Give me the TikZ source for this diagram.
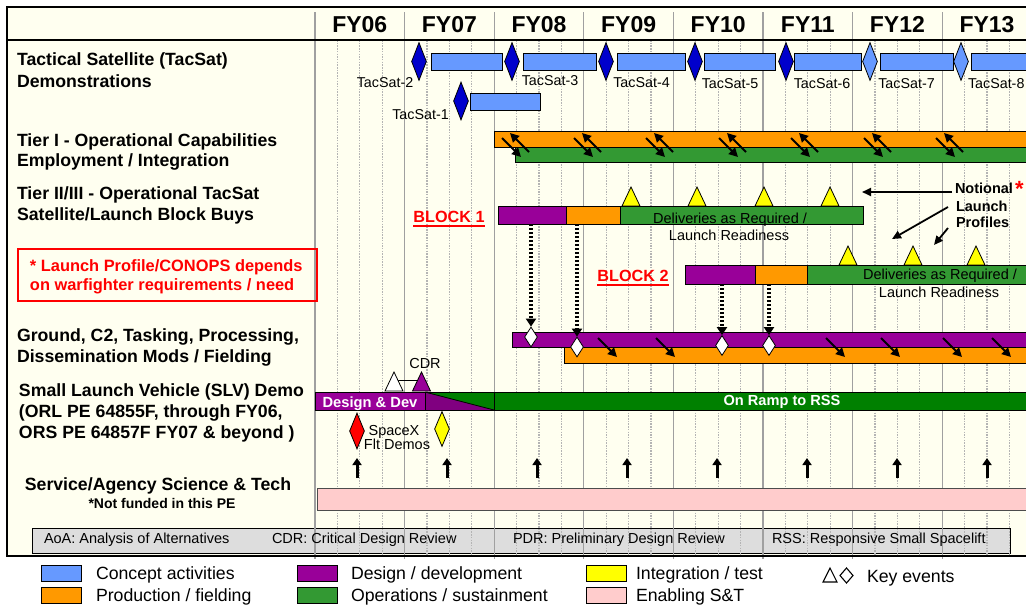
\documentclass[tikz,border=0pt]{standalone}
\usepackage{fontspec}
\setmainfont{Liberation Sans}
\usetikzlibrary{arrows.meta,shapes.geometric}
\definecolor{cream}{HTML}{FFFFF0}
\definecolor{cblue}{HTML}{6699FF}
\definecolor{dblue}{HTML}{0000CC}
\definecolor{corange}{HTML}{FF9900}
\definecolor{cgreen}{HTML}{339933}
\definecolor{dgreen}{HTML}{008000}
\definecolor{cpurple}{HTML}{990099}
\definecolor{dpurple}{HTML}{800080}
\definecolor{cyellow}{HTML}{FFFF00}
\definecolor{cpink}{HTML}{FFCCCC}
\definecolor{cgray}{HTML}{DDDDDD}
\definecolor{gmajor}{HTML}{A0A0A0}
\definecolor{gminor}{HTML}{B4B4B4}
\definecolor{cred}{HTML}{FF0000}
\newcommand\gbar[6]{\node[bar, fill=#2, minimum width={#5-#3}, minimum height={#6-#4}] (#1) at (#3,#4) {};}
\newcommand\ytri[3]{\draw[fill=#3, line width=0.8pt, line join=miter] ({#1-9},#2) -- (#1,{#2-19}) -- ({#1+9},#2) -- cycle;}
\tikzset{
  txt/.style={inner sep=0pt, outer sep=0pt, anchor=base west},
  ctxt/.style={inner sep=0pt, outer sep=0pt, anchor=base},
  lab/.style={txt, font=\fontsize{17.7pt}{21pt}\selectfont\bfseries},
  fy/.style={ctxt, font=\fontsize{23pt}{27pt}\selectfont\bfseries},
  reg/.style={font=\fontsize{14.5pt}{17pt}\selectfont},
  tsl/.style={ctxt, font=\fontsize{14.3pt}{17pt}\selectfont},
  leg/.style={txt, font=\fontsize{17.7pt}{21pt}\selectfont},
  bar/.style={draw=black, line width=0.8pt, inner sep=0pt, outer sep=0pt, anchor=north west},
  swatch/.style={draw=black, line width=0.8pt, inner sep=0pt, anchor=north west, minimum width=40, minimum height=16},
  tsd/.style={diamond, draw=black, line width=0.8pt, inner sep=0pt, minimum width=15, minimum height=38},
  wd/.style={diamond, draw=black, fill=white, line width=0.8pt, inner sep=0pt, minimum width=13, minimum height=20},
  darr/.style={line width=2pt, -{Triangle[length=9pt,width=9pt]}},
  uarr/.style={line width=3pt, -{Triangle[length=7pt,width=9pt]}},
  narr/.style={line width=1.8pt, -{Triangle[length=9pt,width=8pt]}},
  dotarr/.style={line width=3.2pt, dash pattern=on 2.4pt off 1.6pt, -{Triangle[length=8pt,width=10pt]}},
  majorgrid/.style={gmajor, line width=1.2pt},
  minorgrid/.style={gminor, line width=1.3pt, dash pattern=on 1.5pt off 1.2pt},
}
\begin{document}
\begin{tikzpicture}[x=1pt,y=-1pt]
\useasboundingbox (0,0) rectangle (1026,606);
\clip (0,0) rectangle (1026,606);
\fill[white] (0,0) rectangle (1026,606);
\fill[cream] (7,7) rectangle (1030,556);

% abbreviation box
\gbar{abbr}{cgray}{32}{528}{1010}{553}

% grid
\foreach \q in {1,...,32}{
  \pgfmathtruncatemacro\m{mod(\q,4)}
  \ifnum\m=0\relax\else
    \draw[minorgrid] ({315+22.4*\q},40) -- ({315+22.4*\q},556);
  \fi
}
\foreach \k in {0,...,8}{
  \draw[majorgrid] ({315+89.6*\k},12) -- ({315+89.6*\k},559);
}

% frame
\draw[line width=1.3pt] (7,40) -- (1030,40);
\draw[line width=2pt] (1030,7) -- (7,7) -- (7,556) -- (1030,556);

% year labels
\foreach \k/\yr in {0/FY06,1/FY07,2/FY08,3/FY09,4/FY10,5/FY11,6/FY12,7/FY13}{
  \node[fy] (fy\k) at ({315+89.6*(\k+0.5)},32.2) {\yr};
}

% row labels
\node[lab] (l1a) at (17,65.3) {Tactical Satellite (TacSat)};
\node[lab] (l1b) at (17,87.3) {Demonstrations};
\node[lab] (l2a) at (17,146.3) {Tier I - Operational Capabilities};
\node[lab] (l2b) at (17,166.3) {Employment / Integration};
\node[lab] (l3a) at (17,199.3) {Tier II/III - Operational TacSat};
\node[lab] (l3b) at (17,220.3) {Satellite/Launch Block Buys};
\node[lab] (l4a) at (17,341.3) {Ground, C2, Tasking, Processing,};
\node[lab] (l4b) at (17,362.3) {Dissemination Mods / Fielding};
\node[lab] (l5a) at (19,396.3) {Small Launch Vehicle (SLV) Demo};
\node[lab] (l5b) at (19,417.3) {(ORL PE 64855F, through FY06,};
\node[lab] (l5c) at (19,438.3) {ORS PE 64857F FY07 \& beyond )};
\node[lab, anchor=base] (l6a) at (158,490.3) {Service/Agency Science \& Tech};
\node[ctxt, font=\fontsize{14pt}{17pt}\selectfont\bfseries] (l6b) at (162,508.5) {*Not funded in this PE};

% red note box
\node[draw=cred, line width=2pt, inner sep=0pt, anchor=north west, minimum width=299, minimum height=52] (rbox) at (17,248) {};
\node[txt, text=cred, font=\fontsize{16.4pt}{20pt}\selectfont\bfseries] (rb1) at (30,271.9) {* Launch Profile/CONOPS depends};
\node[txt, text=cred, font=\fontsize{16.4pt}{20pt}\selectfont\bfseries] (rb2) at (30,290.9) {on warfighter requirements / need};

% ---------- TacSat row ----------
\gbar{t2b}{cblue}{431}{53}{502}{70}
\gbar{t3b}{cblue}{523}{53}{596}{70}
\gbar{t4b}{cblue}{617}{53}{685}{70}
\gbar{t5b}{cblue}{704}{53}{775}{70}
\gbar{t6b}{cblue}{794}{53}{861}{70}
\gbar{t7b}{cblue}{880}{53}{953}{70}
\gbar{t8b}{cblue}{971}{53}{1030}{70}
\gbar{t1b}{cblue}{470}{93}{540}{110}
\node[tsd, fill=dblue] (t2d) at (419,61.5) {};
\node[tsd, fill=dblue] (t3d) at (512,61.5) {};
\node[tsd, fill=dblue] (t4d) at (606,61.5) {};
\node[tsd, fill=dblue] (t5d) at (695,61.5) {};
\node[tsd, fill=dblue] (t6d) at (786,61.5) {};
\node[tsd, fill=cblue] (t7d) at (870,61.5) {};
\node[tsd, fill=cblue] (t8d) at (961,61.5) {};
\node[tsd, fill=dblue] (t1d) at (461,101) {};
\node[tsl] (t2l) at (385,87.1) {TacSat-2};
\node[tsl] (t3l) at (550,85.1) {TacSat-3};
\node[tsl] (t4l) at (641.5,87.1) {TacSat-4};
\node[tsl] (t5l) at (730,88.1) {TacSat-5};
\node[tsl] (t6l) at (822,88.1) {TacSat-6};
\node[tsl] (t7l) at (906.5,88.1) {TacSat-7};
\node[tsl, anchor=base west] (t8l) at (968,88.1) {TacSat-8};
\node[tsl] (t1l) at (420.5,119) {TacSat-1};

% ---------- Tier I row ----------
\gbar{t1o}{corange}{494}{131}{1030}{147}
\gbar{t1g}{cgreen}{515}{147}{1030}{162}
\foreach \x in {502,574,646,719,791,864,936}{
  \draw[darr] (\x+27,152) -- (\x+8,133);
  \draw[darr] (\x,138) -- (\x+19,157);
}

% ---------- Tier II/III row ----------
\node[ctxt, text=cred, font=\fontsize{16.2pt}{20pt}\selectfont\bfseries] (blk1) at (449,222.8) {BLOCK 1};
\draw[cred, line width=1.6pt] ([yshift=-3pt]blk1.base west) -- ([yshift=-3pt]blk1.base east);
\node[ctxt, text=cred, font=\fontsize{16.2pt}{20pt}\selectfont\bfseries] (blk2) at (633,281.8) {BLOCK 2};
\draw[cred, line width=1.6pt] ([yshift=-3pt]blk2.base west) -- ([yshift=-3pt]blk2.base east);

\ytri{631}{206}{cyellow}
\ytri{697}{206}{cyellow}
\ytri{764}{206}{cyellow}
\ytri{830}{206}{cyellow}
\gbar{b1p}{cpurple}{498}{206}{566}{224}
\gbar{b1o}{corange}{566}{206}{620}{224}
\gbar{b1g}{cgreen}{620}{206}{863}{224}
\node[ctxt, reg] (b1t1) at (730,223.2) {Deliveries as Required /};
\node[ctxt, reg] (b1t2) at (729,240.2) {Launch Readiness};

\ytri{848}{265}{cyellow}
\ytri{913}{265}{cyellow}
\ytri{976}{265}{cyellow}
\gbar{b2p}{cpurple}{685}{265}{755}{284}
\gbar{b2o}{corange}{755}{265}{807}{284}
\gbar{b2g}{cgreen}{807}{265}{1030}{284}
\node[ctxt, reg] (b2t1) at (940,279.2) {Deliveries as Required /};
\node[ctxt, reg] (b2t2) at (939,297.2) {Launch Readiness};

% notional launch profiles
\node[txt, font=\fontsize{14.5pt}{17pt}\selectfont\bfseries] (not1) at (955,193.5) {Notional};
\node[txt, text=cred, font=\fontsize{22pt}{24pt}\selectfont\bfseries] (nstar) at (1015,196) {*};
\node[txt, font=\fontsize{14.5pt}{17pt}\selectfont\bfseries] (not2) at (956,211.9) {Launch};
\node[txt, font=\fontsize{14.5pt}{17pt}\selectfont\bfseries] (not3) at (956,227.7) {Profiles};
\coordinate (na1) at (862,192);
\coordinate (na2) at (892,239);
\coordinate (na3) at (934,245);
\draw[narr] (952,192) -- (na1);
\draw[narr] (948,207) -- (na2);
\draw[narr] (948,228) -- (na3);

% ---------- Ground row ----------
\gbar{gp}{cpurple}{512}{332}{1030}{347}
\gbar{go}{corange}{564}{347}{1030}{363}
\foreach \x in {598,656,826,881,943,992}{
  \draw[darr] (\x,338) -- (\x+19,357);
}
\node[wd] (d1) at (531,337) {};
\node[wd] (d2) at (577,347) {};
\node[wd] (d3) at (722,345.5) {};
\node[wd] (d4) at (769,345.5) {};
\draw[dotarr] (d1 |- b1p.south) -- (d1.north);
\draw[dotarr] (d2 |- b1o.south) -- (d2.north);
\draw[dotarr] (d3 |- b2p.south) -- (d3.north);
\draw[dotarr] (d4 |- b2o.south) -- (d4.north);

% ---------- SLV row ----------
\gbar{dd}{cpurple}{315}{392}{425}{410}
\gbar{rmp0}{dgreen}{425}{392}{494}{410}
\fill[dpurple] (425,392.5) -- (425,410) -- (494,410) -- cycle;
\draw[line width=0.8pt] (425,392) -- (494,410);
\draw[line width=0.8pt] (425,392) rectangle (494,410);
\gbar{rmp}{dgreen}{494}{392}{1030}{410}
\node[ctxt, text=white, font=\fontsize{14.7pt}{17pt}\selectfont\bfseries] (ddt) at (370,407) {Design \& Dev};
\node[ctxt, text=white, font=\fontsize{14.6pt}{17pt}\selectfont\bfseries] (rmpt) at (782,405.8) {On Ramp to RSS};

\node[ctxt, reg] (cdr) at (425,368.2) {CDR};
\draw[line width=0.8pt] (398,380) -- (417,380);
\ytri{394}{391}{white}
\ytri{421.5}{391}{cpurple}

\node[diamond, draw=black, fill=cred, line width=0.8pt, inner sep=0pt, minimum width=15, minimum height=36] (sx1) at (357,431) {};
\node[diamond, draw=black, fill=cyellow, line width=0.8pt, inner sep=0pt, minimum width=15, minimum height=35] (sx2) at (442,429) {};
\node[ctxt, reg] (sxt1) at (394,435.2) {SpaceX};
\node[ctxt, reg] (sxt2) at (397,449.2) {Flt Demos};

% ---------- S&T row ----------
\foreach \x in {357,447,537,627,717,807,897,987}{
  \draw[uarr] (\x,478) -- (\x,458);
}
\node[bar, draw=gray!60!black, fill=cpink, minimum width=713, minimum height=22] (snt) at (317,488) {};

% abbreviations
\node[txt, reg] (ab1) at (44,543.8) {AoA: Analysis of Alternatives};
\node[txt, reg] (ab2) at (272,543.8) {CDR: Critical Design Review};
\node[txt, reg] (ab3) at (513,543.8) {PDR: Preliminary Design Review};
\node[txt, reg] (ab4) at (772,543.8) {RSS: Responsive Small Spacelift};

% ---------- legend ----------
\node[swatch, fill=cblue] (s1) at (41,565) {};
\node[leg] (s1t) at (96,579.5) {Concept activities};
\node[swatch, fill=corange] (s2) at (41,587) {};
\node[leg] (s2t) at (96,601.5) {Production / fielding};
\node[swatch, fill=cpurple] (s3) at (297,565) {};
\node[leg] (s3t) at (351,579.5) {Design / development};
\node[swatch, fill=cgreen] (s4) at (297,587) {};
\node[leg] (s4t) at (351,601.5) {Operations / sustainment};
\node[swatch, fill=cyellow] (s5) at (586,565) {};
\node[leg] (s5t) at (636,579.5) {Integration / test};
\node[swatch, fill=cpink] (s6) at (586,587) {};
\node[leg] (s6t) at (636,601.5) {Enabling S\&T};
\draw[line width=1.1pt, line join=miter] (823,582) -- (830,568) -- (837,582) -- cycle;
\draw[line width=1.1pt, line join=miter] (846.5,568) -- (853,575.5) -- (846.5,583) -- (840,575.5) -- cycle;
\node[leg] (s7t) at (867,582.3) {Key events};
\end{tikzpicture}
\end{document}
